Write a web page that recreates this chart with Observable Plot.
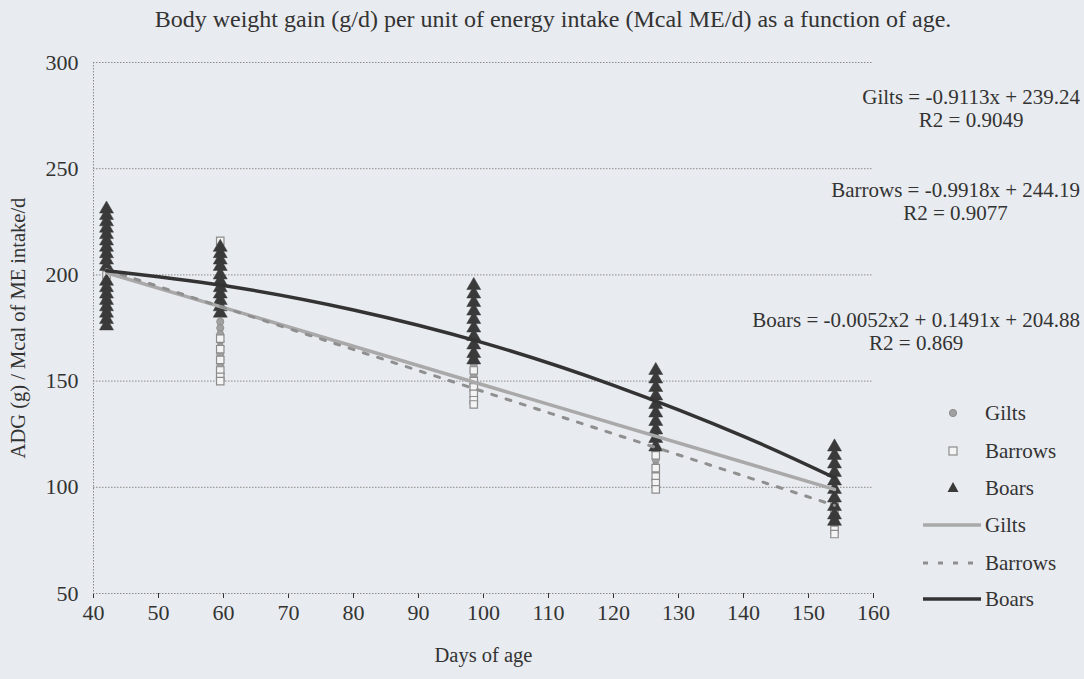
<!DOCTYPE html>
<html>
<head>
<meta charset="utf-8">
<script src="https://cdn.jsdelivr.net/npm/d3@7"></script>
<script src="https://cdn.jsdelivr.net/npm/@observablehq/plot@0.6"></script>
<style>
  html, body { margin: 0; padding: 0; background: #e8ebef; }
  #wrap { position: relative; width: 1084px; height: 679px; font-family: "Liberation Serif", "Times New Roman", serif; color: #333; }
  #wrap svg { position: absolute; left: 0; top: 0; }
  .abs { position: absolute; white-space: nowrap; }
  #title { left: 553px; top: 6px; transform: translateX(-50%); font-size: 24px; }
  .eq { font-size: 21px; text-align: center; line-height: 23px; right: 4px; }
  #legend { left: 918px; top: 400px; font-size: 21px; }
  .li { position: absolute; left: 0; height: 26px; width: 170px; }
  .li svg { position: absolute; left: 0; top: 0; }
  .li span { position: absolute; left: 67px; top: 0; line-height: 26px; }
</style>
</head>
<body>
<div id="wrap">
  <div id="title" class="abs">Body weight gain (g/d) per unit of energy intake (Mcal ME/d) as a function of age.</div>
  <div id="eqGilts" class="abs eq" style="top:86px;">Gilts = -0.9113x + 239.24<br>R2 = 0.9049</div>
  <div id="eqBarrows" class="abs eq" style="top:179px;">Barrows = -0.9918x + 244.19<br>R2 = 0.9077</div>
  <div id="eqBoars" class="abs eq" style="top:309px;">Boars = -0.0052x2 + 0.1491x + 204.88<br>R2 = 0.869</div>
  <div id="legend" class="abs"></div>
</div>
<script>
// ---- Data ----
const ages = [42, 59.5, 98.5, 126.5, 154];

const giltsADG = [
  [214, 209, 203, 197, 192, 186],
  [178, 175, 172, 169, 166, 163, 160, 157],
  [162, 158, 155, 152, 149, 146],
  [117, 113, 110, 107, 104, 101],
  [95, 91, 87, 84, 81]
];
const barrowsADG = [
  [220, 211, 200, 190, 182],
  [216, 170, 165, 160, 155, 152, 150],
  [160, 155, 150, 147, 144, 141, 139],
  [115, 109, 105, 102, 99],
  [92, 88, 84, 80, 78]
];
const boarsADG = [
  [231, 228, 225, 222, 219, 216, 213, 210, 207, 204, 197, 194, 191, 188, 185, 182, 179, 176],
  [213, 210, 207, 204, 200, 197, 194, 191, 188, 185, 182],
  [195, 191, 187, 183, 179, 175, 171, 167, 163, 160],
  [155, 151, 147, 143, 139, 135, 131, 127, 123, 119],
  [119, 115, 111, 107, 103, 99, 95, 91, 87, 84]
];

// trend lines
const giltsTrendDays = [42, 154];
const giltsTrendADG = [201, 99];
const barrowsTrendDays = [42, 154];
const barrowsTrendADG = [202.5, 91.5];
const boarsTrendDays = [42, 60, 80, 100, 120, 140, 154];
const boarsTrendADG = [202, 195, 183.5, 168, 148, 124, 104.5];

const xTicks = [40, 50, 60, 70, 80, 90, 100, 110, 120, 130, 140, 150, 160];
const yTicks = [50, 100, 150, 200, 250, 300];

// ---- Build tables ----
const toPoints = (arr) => arr.flatMap((vals, i) => vals.map(v => ({day: ages[i], adg: v})));
const gilts = toPoints(giltsADG);
const barrows = toPoints(barrowsADG);
const boars = toPoints(boarsADG);
const toLine = (ds, vs) => ds.map((d, i) => ({day: d, adg: vs[i]}));
const giltsTrend = toLine(giltsTrendDays, giltsTrendADG);
const barrowsTrend = toLine(barrowsTrendDays, barrowsTrendADG);
const boarsTrend = toLine(boarsTrendDays, boarsTrendADG);

const chart = Plot.plot({
  width: 1084,
  height: 679,
  marginLeft: 93,
  marginRight: 211,
  marginTop: 62,
  marginBottom: 86,
  style: {fontFamily: "'Liberation Serif', 'Times New Roman', serif", fontSize: "22px", color: "#333", background: "transparent", overflow: "visible"},
  x: {domain: [40, 160], ticks: xTicks, tickSize: 5, tickPadding: 6, tickFormat: d => String(d),
      label: "Days of age", labelAnchor: "center", labelOffset: 68, labelArrow: "none"},
  y: {domain: [50, 300], ticks: yTicks, tickSize: 0, tickPadding: 15, tickFormat: d => String(d),
      label: "ADG (g) / Mcal of ME intake/d", labelAnchor: "center", labelOffset: 83, labelArrow: "none"},
  marks: [
    Plot.ruleY(yTicks, {stroke: "#8a8a8a", strokeWidth: 1, strokeDasharray: "1.5,1.5"}),
    Plot.ruleX([40], {stroke: "#8a8a8a", strokeWidth: 1, strokeDasharray: "1.5,1.5"}),
    Plot.dot(gilts, {x: "day", y: "adg", symbol: "circle", r: 3.6, fill: "#a0a0a0", stroke: "#8c8c8c", strokeWidth: 0.8}),
    Plot.dot(barrows, {x: "day", y: "adg", symbol: "square", r: 4.2, fill: "#f4f4f4", stroke: "#8c8c8c", strokeWidth: 1.2}),
    Plot.dot(boars, {x: "day", y: "adg", symbol: "triangle", r: 5.2, fill: "#3a3a3a", stroke: "#3a3a3a", strokeWidth: 0.5}),
    Plot.line(giltsTrend, {x: "day", y: "adg", stroke: "#a9a9a9", strokeWidth: 3.5}),
    Plot.line(barrowsTrend, {x: "day", y: "adg", stroke: "#8f8f8f", strokeWidth: 3, strokeDasharray: "5,10"}),
    Plot.line(boarsTrend, {x: "day", y: "adg", stroke: "#333", strokeWidth: 3.5, curve: "natural"})
  ]
});
// axis label font sizes
d3.select(chart).selectAll("[aria-label='x-axis label'] text, [aria-label='y-axis label'] text").style("font-size", "20.5px");
document.getElementById("wrap").prepend(chart);

// ---- Legend ----
const legendItems = [
  {label: "Gilts", kind: "circle"},
  {label: "Barrows", kind: "square"},
  {label: "Boars", kind: "triangle"},
  {label: "Gilts", kind: "lineGilts"},
  {label: "Barrows", kind: "lineBarrows"},
  {label: "Boars", kind: "lineBoars"}
];
const legendY = [0, 38, 75, 112, 150, 186];
const legend = d3.select("#legend");
legendItems.forEach((it, i) => {
  const row = legend.append("div").attr("class", "li").style("top", legendY[i] + "px");
  const s = row.append("svg").attr("width", 66).attr("height", 26);
  if (it.kind === "circle") s.append("circle").attr("cx", 35).attr("cy", 13).attr("r", 3.6).attr("fill", "#a0a0a0").attr("stroke", "#8c8c8c");
  if (it.kind === "square") s.append("rect").attr("x", 31).attr("y", 9).attr("width", 8).attr("height", 8).attr("fill", "#f4f4f4").attr("stroke", "#8c8c8c").attr("stroke-width", 1.2);
  if (it.kind === "triangle") s.append("path").attr("d", "M35,7 L40.5,17 L29.5,17 Z").attr("fill", "#3a3a3a");
  if (it.kind === "lineGilts") s.append("line").attr("x1", 5).attr("x2", 63).attr("y1", 13).attr("y2", 13).attr("stroke", "#a9a9a9").attr("stroke-width", 3.5);
  if (it.kind === "lineBarrows") s.append("line").attr("x1", 5).attr("x2", 63).attr("y1", 13).attr("y2", 13).attr("stroke", "#8f8f8f").attr("stroke-width", 3).attr("stroke-dasharray", "5,10");
  if (it.kind === "lineBoars") s.append("line").attr("x1", 5).attr("x2", 63).attr("y1", 13).attr("y2", 13).attr("stroke", "#333").attr("stroke-width", 3.5);
  row.append("span").text(it.label);
});
</script>
</body>
</html>
